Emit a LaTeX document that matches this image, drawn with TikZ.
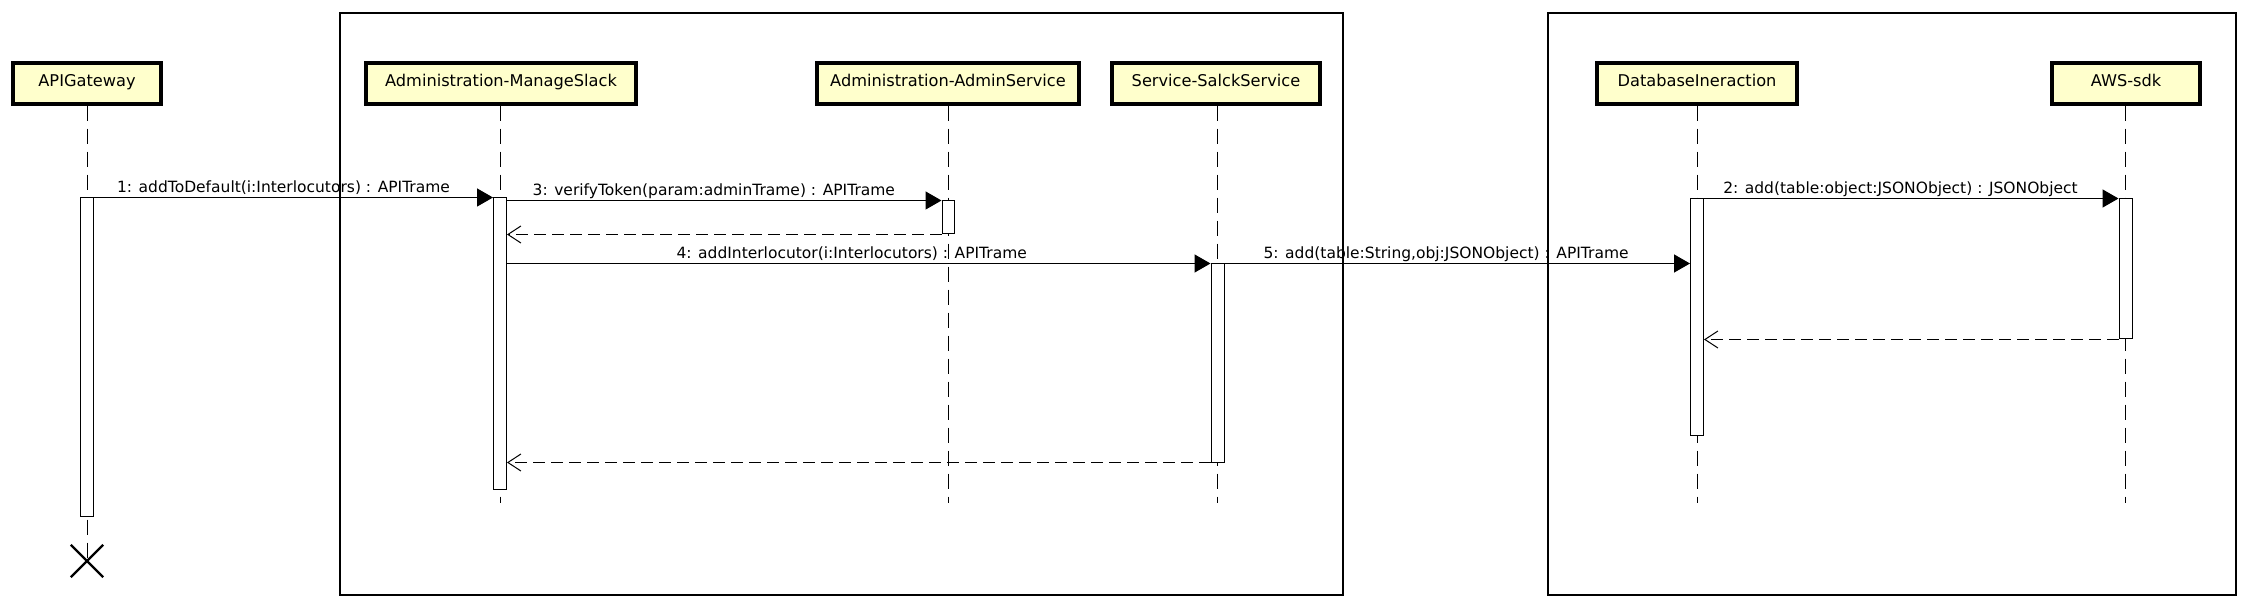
\documentclass[tikz,border=0pt]{standalone}
\usepackage{fontspec}
\setmainfont{DejaVu Sans}
\usetikzlibrary{arrows.meta,shapes.misc}
\definecolor{headyellow}{RGB}{255,255,204}
\begin{document}
\begin{tikzpicture}[x=0.5pt,y=-0.5pt,
  txt/.style={font=\fontsize{7.75}{9}\selectfont},
  head/.style={font=\fontsize{8.1}{9.5}\selectfont, draw=black, line width=1.6pt, fill=headyellow, inner sep=0pt,
    minimum height=20.5pt, text height=5.6pt, text depth=2.6pt},
  frame/.style={draw=black, line width=0.7pt},
  lifeline/.style={draw=black, line width=0.5pt, dash pattern=on 7.5pt off 4pt},
  bar/.style={draw=black, fill=white, line width=0.5pt, inner sep=0pt, minimum width=6.5pt},
  msg/.style={draw=black, line width=0.7pt, -{Triangle[length=8pt,width=9pt]}},
  ret/.style={draw=black, line width=0.5pt, dash pattern=on 6pt off 3pt, -{Straight Barb[length=6.5pt,width=8.5pt]}},
  lbl/.style={txt, anchor=base, inner sep=0pt, yshift=2.5pt}
]
\useasboundingbox (0,0) rectangle (2250,609);
% frames
\draw[frame] (340,13) rectangle (1343,595);
\draw[frame] (1548,13) rectangle (2236,595);
% heads
\node[head, minimum width=74pt]  (hAG)  at (87,83.5)   {APIGateway};
\node[head, minimum width=135pt] (hMS)  at (501,83.5)  {Administration-ManageSlack};
\node[head, minimum width=131pt] (hAS)  at (948,83.5)  {Administration-AdminService};
\node[head, minimum width=104pt] (hSS)  at (1216,83.5) {Service-SalckService};
\node[head, minimum width=100pt] (hDB)  at (1697,83.5) {DatabaseIneraction};
\node[head, minimum width=74pt]  (hAWS) at (2126,83.5) {AWS-sdk};
% lifeline ends
\node[cross out, draw=black, line width=1.2pt, minimum size=15pt, inner sep=0pt] (xAG) at (87,561) {};
\coordinate (eMS)  at (500,503);
\coordinate (eAS)  at (948,503);
\coordinate (eSS)  at (1217.5,503);
\coordinate (eDB)  at (1697,503);
\coordinate (eAWS) at (2125.5,503);
\draw[lifeline] (hAG.south) -- (xAG.center);
\draw[lifeline] (hMS.south -| eMS) -- (eMS);
\draw[lifeline] (hAS.south -| eAS) -- (eAS);
\draw[lifeline] (hSS.south -| eSS) -- (eSS);
\draw[lifeline] (hDB.south -| eDB) -- (eDB);
\draw[lifeline] (hAWS.south -| eAWS) -- (eAWS);
% activation bars
\node[bar, minimum height=159pt] (barAG)  at (87,357) {};
\node[bar, minimum height=145.5pt] (barMS) at (500,343.5) {};
\node[bar, minimum height=16.5pt, minimum width=6pt] (barAS) at (948,217.5) {};
\node[bar, minimum height=99pt] (barSS)  at (1217.5,363) {};
\node[bar, minimum height=118pt] (barDB)  at (1697,317) {};
\node[bar, minimum height=70pt] (barAWS) at (2125.5,269) {};
% messages
\draw[msg] (barAG.north east) -- node[lbl, pos=0.475] {1: addToDefault(i:Interlocutors) : APITrame} (barMS.north west);
\draw[msg] (barMS.east |- barAS.north) -- node[lbl, pos=0.476] {3: verifyToken(param:adminTrame) : APITrame} (barAS.north west);
\draw[ret] (barAS.south west) -- (barMS.east |- barAS.south);
\draw[msg] (barMS.east |- barSS.north) -- node[lbl, pos=0.49] {4: addInterlocutor(i:Interlocutors) : APITrame} (barSS.north west);
\draw[msg] (barSS.north east) -- node[lbl, pos=0.476] {5: add(table:String,obj:JSONObject) : APITrame} (barDB.west |- barSS.north);
\draw[msg] (barDB.north east) -- node[lbl, pos=0.474] {2: add(table:object:JSONObject) : JSONObject} (barAWS.north west);
\draw[ret] (barAWS.south west) -- (barDB.east |- barAWS.south);
\draw[ret] (barSS.south west) -- (barMS.east |- barSS.south);
\end{tikzpicture}
\end{document}
